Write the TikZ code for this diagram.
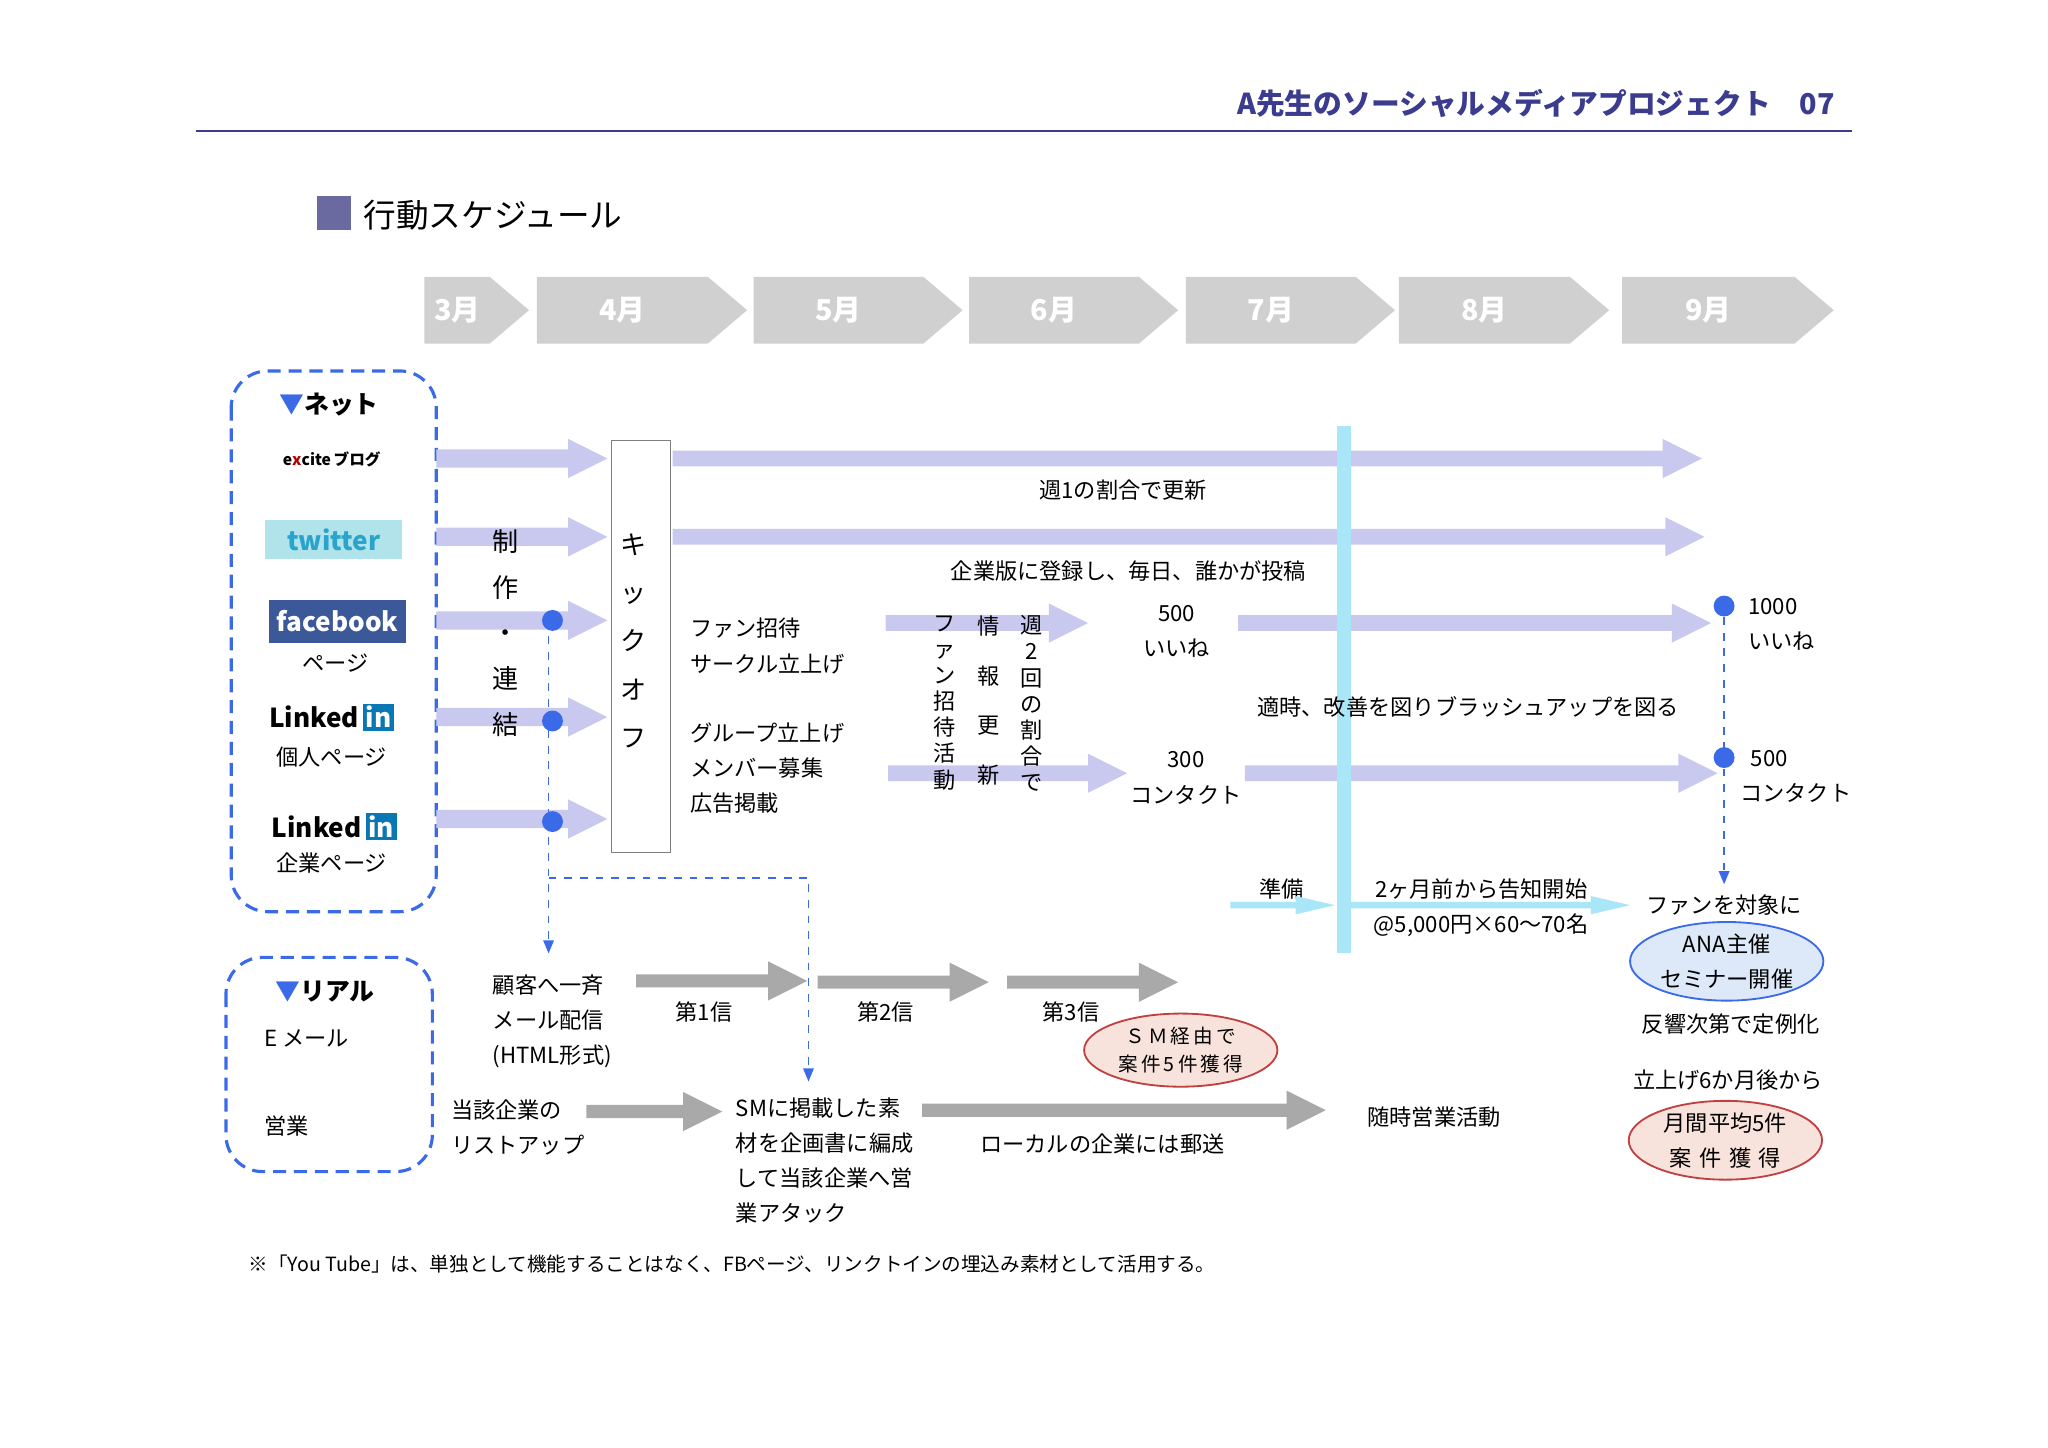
\documentclass[tikz,border=0pt]{standalone}
\usepackage{fontspec}
\setmainfont{Noto Sans CJK JP}
\usetikzlibrary{arrows.meta,shapes.geometric}
\definecolor{lav}{HTML}{C9C9EF}
\definecolor{gr}{HTML}{A9A9A9}
\definecolor{mon}{HTML}{D0D0D0}
\definecolor{navy}{HTML}{3B3B8F}
\definecolor{bl}{HTML}{3A6AE8}
\definecolor{cy}{HTML}{A8E6F8}
\definecolor{sq}{HTML}{6A6AA0}
\definecolor{twbg}{HTML}{B0E4EA}
\definecolor{twfg}{HTML}{2AA4CC}
\definecolor{fbbg}{HTML}{3B5998}
\definecolor{libg}{HTML}{0A77B5}
\definecolor{anabg}{HTML}{DDE8F8}
\definecolor{redl}{HTML}{C04040}
\definecolor{redbg}{HTML}{F8E2DC}
\newcommand\farrow[6]{\fill[#6] (#1,#3-#4) -- (#2-30,#3-#4) -- (#2-30,#3-#5) -- (#2,#3) -- (#2-30,#3+#5) -- (#2-30,#3+#4) -- (#1,#3+#4) -- cycle;}
\newcommand\mchev[4]{\fill[mon] (#1,212) -- (#2-30,212) -- (#2,237.5) -- (#2-30,263) -- (#1,263) -- cycle; \node[mlab] (#4) at ({(#1+#2-30)/2},237.5) {#3};}
\tikzset{
 t/.style={font=\fontsize{8.5}{13.5}\selectfont, inner sep=0pt, align=center},
 tl/.style={t, anchor=west, align=left},
 mlab/.style={font=\fontsize{11}{12}\selectfont\bfseries, text=white, inner sep=0pt},
 vt/.style={t, anchor=north},
 dashb/.style={bl, dashed, line width=0.6pt},
 dot/.style={circle, fill=bl, inner sep=0pt, minimum size=8pt},
 redell/.style={ellipse, draw=redl, fill=redbg, minimum width=74pt, minimum height=28pt, inner sep=0pt, t, line width=0.7pt},
}
\begin{document}
\begin{tikzpicture}[x=0.5pt,y=-0.5pt]
\useasboundingbox (0,0) rectangle (1568,1108);
\fill[white] (0,0) rectangle (1568,1108);
% header
\node[anchor=east, font=\fontsize{11}{12}\selectfont\bfseries, text=navy, inner sep=0pt] (hdr) at (1405,79) {A先生のソーシャルメディアプロジェクト\quad 07};
\draw[navy, line width=0.8pt] (150,100) -- (1418,100);
\fill[sq] (243,150) rectangle (269,176);
\node[anchor=west, font=\fontsize{12.5}{14}\selectfont, inner sep=0pt] (ttl) at (278,165) {行動スケジュール};
% months
\mchev{325}{405}{3月}{m3}
\mchev{411}{572}{4月}{m4}
\mchev{577}{737}{5月}{m5}
\mchev{742}{902}{6月}{m6}
\mchev{908}{1068}{7月}{m7}
\mchev{1071}{1232}{8月}{m8}
\mchev{1242}{1404}{9月}{m9}
% boxes
\draw[dashb, line width=1.2pt, dash pattern=on 5pt off 3pt, rounded corners=14pt] (177,284) rectangle (334,698);
\draw[dashb, line width=1.2pt, dash pattern=on 5pt off 3pt, rounded corners=14pt] (173,733) rectangle (331,897);
\node[t, font=\fontsize{9.5}{12}\selectfont\bfseries] (net) at (252,310) {\textcolor{bl}{▼}ネット};
\node[t, font=\fontsize{6}{7}\selectfont\bfseries] (exc) at (254,352) {e\textcolor{red!70!black}{x}cite\,ブログ};
\node[fill=twbg, minimum width=52.5pt, minimum height=15pt, inner sep=0pt, font=\fontsize{10}{10}\selectfont\bfseries, text=twfg] (tw) at (255.5,413) {twitter};
\node[fill=fbbg, minimum width=52.5pt, minimum height=16.5pt, inner sep=0pt, font=\fontsize{10}{10}\selectfont\bfseries, text=white] (fb) at (258.5,475.5) {facebook};
\node[t] (fbp) at (257,508) {ページ};
\node[t, font=\fontsize{10}{10}\selectfont\bfseries] (li1) at (254,549) {Linked\,\setlength{\fboxsep}{1pt}\colorbox{libg}{\textcolor{white}{in}}};
\node[t] (li1p) at (254,580) {個人ページ};
\node[t, font=\fontsize{10}{10}\selectfont\bfseries] (li2) at (256,633) {Linked\,\setlength{\fboxsep}{1pt}\colorbox{libg}{\textcolor{white}{in}}};
\node[t] (li2p) at (254,661) {企業ページ};
% lavender arrows
\farrow{334}{465}{351}{7}{15}{lav}
\farrow{334}{465}{411}{7}{15}{lav}
\farrow{334}{465}{475}{7}{15}{lav}
\farrow{334}{465}{549}{7}{15}{lav}
\farrow{334}{465}{627}{7}{15}{lav}
\farrow{515}{1303}{351}{6}{15}{lav}
\farrow{515}{1305}{411}{6}{15}{lav}
\farrow{678}{833}{477}{6}{15}{lav}
\farrow{948}{1310}{477}{6}{15}{lav}
\farrow{680}{863}{592}{6}{15}{lav}
\farrow{953}{1315}{592}{6}{15}{lav}
% cyan band
\fill[cy] (1024,326) rectangle (1034,730);
% kick off
\node[draw=gray, fill=white, minimum width=22.5pt, minimum height=158pt, inner sep=0pt] (ko) at (490.5,495) {};
\node[vt, font=\fontsize{10}{18.5}\selectfont] (kot) at (485,408) {キ\\ッ\\ク\\オ\\フ};
\node[vt, font=\fontsize{10}{17.5}\selectfont] (sei) at (387,405) {制\\作\\・\\連\\結};
% dashed connectors
\node[dot] (d1) at (423,475) {};
\node[dot] (d2) at (423,552) {};
\node[dot] (d3) at (423,629) {};
\coordinate (e1) at (420,730);
\coordinate (c1) at (420,672);
\coordinate (c2) at (619,672);
\coordinate (e2) at (619,828);
\draw[dashb] (420,475) -- (420,629);
\draw[dashb, -{Triangle[length=5pt,width=4pt]}] (420,629) -- (e1);
\draw[dashb, -{Triangle[length=5pt,width=4pt]}] (c1) -- (c2) -- (e2);
% texts net
\node[t] (w1) at (860,375) {週1の割合で更新};
\node[t] (kig) at (864,437) {企業版に登録し、毎日、誰かが投稿};
\node[tl] (fan) at (528,494.5) {ファン招待\\サークル立上げ};
\node[tl] (grp) at (528,588) {グループ立上げ\\メンバー募集\\広告掲載};
\node[vt, font=\fontsize{8.5}{10}\selectfont] (v1) at (723,471) {フ\\ァ\\ン\\招\\待\\活\\動};
\node[vt, font=\fontsize{8.5}{19}\selectfont] (v2) at (757,471) {情\\報\\更\\新};
\node[vt, font=\fontsize{8.5}{10}\selectfont] (v3) at (790,471) {週\\2\\回\\の\\割\\合\\で};
\node[t] (r500) at (901,483.5) {500\\いいね};
\node[t] (r300) at (908,595.5) {300\\コンタクト};
\node[t] (kai) at (1124,541) {適時、改善を図りブラッシュアップを図る};
\node[dot] (d4) at (1320,464) {};
\node[dot] (d5) at (1320,580) {};
\node[tl] (r1000) at (1338,478) {1000\\いいね};
\node[tl] (r500b) at (1332,594.5) {\hspace{4pt}500\\コンタクト};
\coordinate (e3) at (1320,677);
\draw[dashb] (d4) -- (d5);
\draw[dashb, -{Triangle[length=5pt,width=4pt]}] (d5) -- (e3);
\node[t] (jun) at (981,681) {準備};
\farrow{942}{1022}{693}{2.5}{7}{cy}
\farrow{1034}{1248}{693}{2.5}{7}{cy}
\node[t] (kok) at (1134,695) {2ヶ月前から告知開始\\@5,000円×60～70名};
\node[t] (fant) at (1320,693) {ファンを対象に};
\node[ellipse, draw=bl, fill=anabg, minimum width=74pt, minimum height=30pt, inner sep=0pt, t, line width=0.7pt] (ana) at (1322,736) {ANA主催\\セミナー開催};
\node[t] (han) at (1325,784) {反響次第で定例化};
\node[t] (tat) at (1323,827) {立上げ6か月後から};
\node[redell] (gek) at (1321,873) {月間平均5件\\案\,\,件\,\,獲\,\,得};
% real
\node[t, font=\fontsize{9.5}{12}\selectfont\bfseries] (real) at (249,759) {\textcolor{bl}{▼}リアル};
\node[tl] (em) at (202,795) {E メール};
\node[tl] (eig) at (202,862) {営業};
\node[tl] (kok2) at (377,782) {顧客へ一斉\\メール配信\\(HTML形式)};
\farrow{487}{618}{751}{5}{15}{gr}
\farrow{626}{757}{752}{5}{15}{gr}
\farrow{771}{902}{752}{5}{15}{gr}
\node[t] (s1) at (539,775) {第1信};
\node[t] (s2) at (678,775) {第2信};
\node[t] (s3) at (820,775) {第3信};
\node[redell, font=\fontsize{7.5}{11}\selectfont] (sm) at (904,804) {Ｓ\,Ｍ\,経\,由\,で\\案\,件\,5\,件\,獲\,得};
\node[tl] (lst) at (345,863) {当該企業の\\リストアップ};
\farrow{449}{553}{851}{5}{15}{gr}
\node[tl] (smk) at (563,888.5) {SMに掲載した素\\材を企画書に編成\\して当該企業へ営\\業アタック};
\farrow{706}{1015}{850}{5}{15}{gr}
\node[t] (loc) at (844,876) {ローカルの企業には郵送};
\node[t] (zui) at (1098,855) {随時営業活動};
\node[tl, font=\fontsize{7.5}{9}\selectfont] (note) at (190,968) {※「You Tube」は、単独として機能することはなく、FBページ、リンクトインの埋込み素材として活用する。};
\end{tikzpicture}
\end{document}
